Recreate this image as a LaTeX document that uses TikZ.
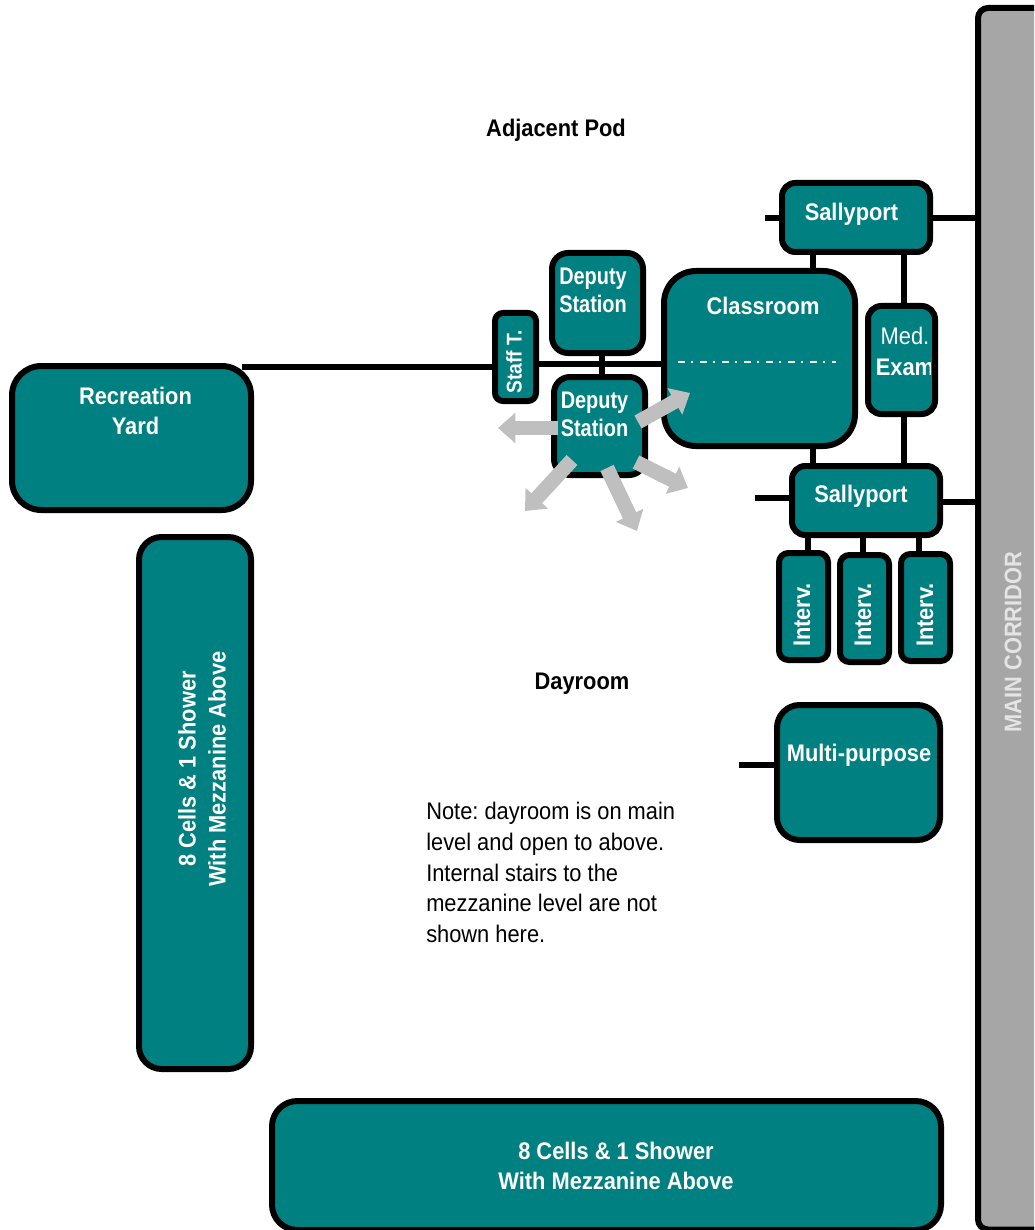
\documentclass[tikz,border=0pt]{standalone}
\usepackage{fontspec}
\setmainfont[FakeStretch=0.91]{Liberation Sans}
\newfontfamily\narrowfam[FakeStretch=0.83]{Liberation Sans}
\usetikzlibrary{arrows.meta}
\definecolor{teal1}{HTML}{008080}
\definecolor{gray1}{HTML}{A6A6A6}
\definecolor{arr}{HTML}{BFBFBF}
\definecolor{corrtext}{HTML}{E4E4E4}
\definecolor{dashc}{HTML}{F0F0E8}
\tikzset{
  roombox/.style={draw=black,line width=4.5pt,fill=teal1,inner sep=0pt,outer sep=0pt},
  lab/.style={text=white,font=\bfseries\fontsize{18}{22.5}\selectfont,align=center,inner sep=0pt},
  labtight/.style={text=white,font=\narrowfam\bfseries\fontsize{18}{21}\selectfont,align=center,inner sep=0pt},
  plainlab/.style={text=black,font=\bfseries\fontsize{18}{22.5}\selectfont,align=center,inner sep=0pt},
  wire/.style={draw=black,line width=4.5pt},
  garrow/.style={draw=arr,line width=11pt,-{Triangle[width=22pt,length=13pt,fill=arr,color=arr]}},
}
\newcommand{\roomn}[7][teal1]{%
  \pgfmathsetmacro{\roomcx}{(#3+#5)/2}\pgfmathsetmacro{\roomcy}{(#4+#6)/2}%
  \pgfmathsetmacro{\roomw}{(#5-#3)*0.75}\pgfmathsetmacro{\roomh}{(#6-#4)*0.75}%
  \node[roombox,fill=#1,rounded corners=#7,minimum width=\roomw pt,minimum height=\roomh pt] (#2) at (\roomcx,\roomcy) {};}
\begin{document}
\frenchspacing
\begin{tikzpicture}[x=0.75pt,y=-0.75pt]
\useasboundingbox (0,0) rectangle (1034,1230);
\begin{scope}
\clip (0,0) rectangle (1034,1230);
\roomn[gray1]{corridor}{978}{8}{1070}{1229.5}{7.5pt}
\roomn{yard}{12}{366}{251}{510}{22pt}
\roomn{cellsl}{139}{537}{251}{1069}{17pt}
\roomn{cellsb}{272}{1101}{941}{1230}{19pt}
\roomn{sp1}{782}{183}{930}{252}{10pt}
\roomn{dep1}{552}{253}{643}{353}{12pt}
\roomn{clsr}{664}{271}{855}{446}{24pt}
\roomn{med}{868}{306}{935}{414}{10pt}
\roomn{staff}{495}{313}{536}{401}{6pt}
\roomn{dep2}{554}{377}{645}{475}{12pt}
\roomn{sp2}{792}{466}{940}{535}{10pt}
\roomn{iv1}{779}{553}{828}{660}{7pt}
\roomn{iv2}{840}{555}{889}{662}{7pt}
\roomn{iv3}{901}{554}{950}{661}{7pt}
\roomn{mp}{777}{705}{940}{840}{17pt}
\end{scope}
% helper coordinates
\coordinate (yardw) at (242,367);
\coordinate (yc) at (0,364);
\coordinate (s1stub) at (765,218);
\coordinate (s2stub) at (755,498);
\coordinate (mpstub) at (739,765);
\coordinate (s1y) at (0,218);
\coordinate (s2y) at (0,502);
\coordinate (xa) at (813,0);
\coordinate (xb) at (904,0);
\coordinate (xd) at (602,0);
\coordinate (xi1) at (808,0);
\coordinate (xi2) at (863,0);
\coordinate (xi3) at (919,0);
% connectors
\draw[wire] (yardw) -- (staff.west |- yardw);
\draw[wire] (staff.east |- yc) -- (clsr.west |- yc);
\draw[wire] (s1stub) -- (sp1.west |- s1stub);
\draw[wire] (s2stub) -- (sp2.west |- s2stub);
\draw[wire] (mpstub) -- (mp.west |- mpstub);
\draw[wire] (sp1.east |- s1y) -- (corridor.west |- s1y);
\draw[wire] (sp2.east |- s2y) -- (corridor.west |- s2y);
\draw[wire] (xa |- sp1.south) -- (xa |- clsr.north);
\draw[wire] (xa |- clsr.south) -- (xa |- sp2.north);
\draw[wire] (xb |- sp1.south) -- (xb |- med.north);
\draw[wire] (xb |- med.south) -- (xb |- sp2.north);
\draw[wire] (xi1 |- sp2.south) -- (xi1 |- iv1.north);
\draw[wire] (xi2 |- sp2.south) -- (xi2 |- iv2.north);
\draw[wire] (xi3 |- sp2.south) -- (xi3 |- iv3.north);
\draw[wire] (xd |- dep1.south) -- (xd |- dep2.north);
% dash-dot line in classroom
\coordinate (dl) at (678,362);
\coordinate (dr) at (836,362);
\draw[dashc,line width=1.2pt,dash pattern=on 5.5pt off 4.5pt on 1.5pt off 5pt] (dl) -- (dr);
% labels
\node[plainlab] (t1) at (556,130) {Adjacent Pod};
\node[plainlab] (t2) at (582,684) {Dayroom};
\node[lab] (l1) at (135.5,411) {Recreation\\Yard};
\node[lab,rotate=90] (l2) at (202,769) {8 Cells \& 1 Shower\\With Mezzanine Above};
\node[lab] (l3) at (616,1166) {8 Cells \& 1 Shower\\With Mezzanine Above};
\node[lab] (l4) at (851.5,214) {Sallyport};
\node[labtight] (l5) at (593,290) {Deputy\\Station};
\node[lab] (l7) at (763,306) {Classroom};
\node[text=white,font=\fontsize{18}{22.5}\selectfont,inner sep=0pt] (l8) at (905,336) {Med.};
\begin{scope}
\clip (860,350) rectangle (930,390);
\node[lab] (l9) at (905,367) {Exam};
\end{scope}
\node[lab,rotate=90,font=\bfseries\fontsize{16}{18}\selectfont] (l10) at (514,362) {Staff T.};
\node[lab] (l11) at (861,496) {Sallyport};
\node[lab,rotate=90] (l12) at (802,615) {Interv.};
\node[lab,rotate=90] (l13) at (863,615) {Interv.};
\node[lab,rotate=90] (l14) at (925,615) {Interv.};
\node[lab] (l15) at (859,755) {Multi-purpose};
\node[lab,rotate=90,text=corrtext] (l16) at (1013,642) {MAIN CORRIDOR};
\node[text=black,font=\fontsize{18}{23}\selectfont,align=left,anchor=north west,inner sep=0pt] (note) at (426,802) {Note: dayroom is on main\\level and open to above.\\Internal stairs to the\\mezzanine level are not\\shown here.};
% grey arrows from the second deputy station
\coordinate (aa0) at (638,422); \coordinate (aa1) at (690,393);
\coordinate (ab0) at (558,428); \coordinate (ab1) at (498,428);
\coordinate (ac0) at (572,460); \coordinate (ac1) at (525,511);
\coordinate (ad0) at (607,468); \coordinate (ad1) at (637,531);
\coordinate (ae0) at (636,462); \coordinate (ae1) at (688,488);
\draw[garrow] (aa0) -- (aa1);
\draw[garrow] (ab0) -- (ab1);
\draw[garrow] (ac0) -- (ac1);
\draw[garrow] (ad0) -- (ad1);
\draw[garrow] (ae0) -- (ae1);
\node[labtight] (l6) at (594.5,414) {Deputy\\Station};
\end{tikzpicture}
\end{document}
